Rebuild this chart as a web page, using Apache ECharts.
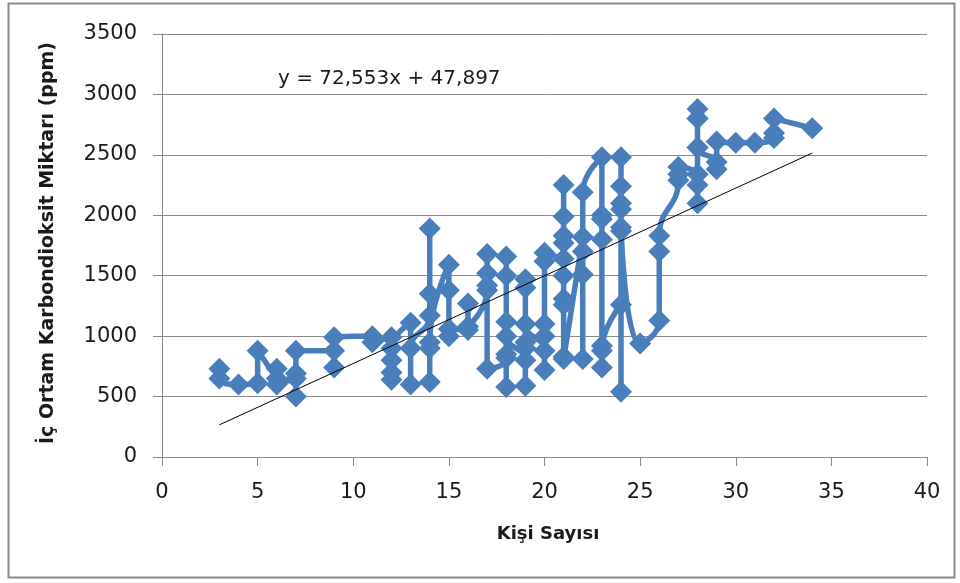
<!DOCTYPE html>
<html>
<head>
<meta charset="utf-8">
<script src="https://cdn.jsdelivr.net/npm/echarts@6/dist/echarts.min.js"></script>
<style>
html,body{margin:0;padding:0;background:#fff;}
#c{width:960px;height:583px;}
</style>
</head>
<body>
<div id="c"></div>
<script>
// Observation sequence (x = number of people, y = indoor CO2 ppm), in drawing order
const xValues = [3,3,4,5,5,6,6,6,7,7,7,7,9,9,9,11,11,12,12,12,12,12,13,13,13,14,14,14,14,14,14,15,15,15,15,16,16,16,17,17,17,17,17,18,18,18,18,18,18,18,19,19,19,19,19,19,19,20,20,20,20,20,20,21,21,21,21,21,21,21,21,21,21,22,22,22,22,22,23,23,23,23,23,23,23,24,24,24,24,24,24,24,24,25,26,26,26,27,27,27,28,28,28,28,28,28,28,28,28,29,29,29,30,31,32,32,32,34];
const yValues = [730,650,600,610,880,650,730,600,650,500,690,880,880,740,990,1000,950,990,800,640,700,900,1110,600,900,1170,1890,1350,620,900,950,1590,1380,1000,1060,1050,1270,1080,1380,1680,1520,1420,730,820,1660,1500,580,850,1120,1000,800,590,950,900,1470,1400,1100,880,720,1000,1100,1620,1690,1640,1770,2250,1990,1830,1500,1310,1260,830,810,1820,1700,1510,810,2190,2480,2000,1970,1800,920,740,880,1260,540,2480,2240,2100,2050,1870,1900,940,1130,1700,1830,2290,2340,2400,2340,2250,2100,2340,2560,2800,2880,2800,2560,2440,2380,2610,2600,2600,2640,2680,2800,2720];
// Linear trendline end points
const trendX = [3, 34];
const trendY = [266, 2515];
const equationText = 'y = 72,553x + 47,897';
const xTitle = 'Kişi Sayısı';
const yTitle = 'İç Ortam Karbondioksit Miktarı (ppm)';

const seriesData = xValues.map((x, i) => [x, yValues[i]]);
const trendData = trendX.map((x, i) => [x, trendY[i]]);

const gridColor = '#8a8a8a';
const chart = echarts.init(document.getElementById('c'), null, {renderer: 'canvas'});
chart.setOption({
  animation: false,
  backgroundColor: '#fff',
  grid: {left: 162, right: 33, top: 34, bottom: 126, containLabel: false},
  xAxis: {
    type: 'value', min: 0, max: 40, interval: 5,
    axisLine: {show: true, onZero: false, lineStyle: {color: gridColor, width: 1}},
    axisTick: {show: true, length: 9, lineStyle: {color: gridColor}},
    splitLine: {show: false},
    axisLabel: {margin: 25, fontFamily: 'DejaVu Sans', fontSize: 21, color: '#1a1a1a',
                formatter: v => String(v)}
  },
  yAxis: {
    type: 'value', min: 0, max: 3500, interval: 500,
    axisLine: {show: true, lineStyle: {color: gridColor, width: 1}},
    axisTick: {show: true, length: 9, lineStyle: {color: gridColor}},
    splitLine: {show: true, lineStyle: {color: gridColor, width: 1}},
    axisLabel: {margin: 25, fontFamily: 'DejaVu Sans', fontSize: 21, color: '#1a1a1a',
                formatter: v => String(v)}
  },
  series: [
    {
      type: 'line',
      data: seriesData,
      smooth: 0.5,
      symbol: 'diamond',
      symbolSize: 22,
      showAllSymbol: true,
      lineStyle: {color: '#4a7ebb', width: 5.5},
      itemStyle: {color: '#4a7ebb'},
      z: 2
    },
    {
      type: 'line',
      data: trendData,
      symbol: 'none',
      lineStyle: {color: '#000', width: 1},
      z: 5
    }
  ],
  graphic: [
    {type: 'rect', shape: {x: 8.5, y: 3.5, width: 946, height: 574},
     style: {fill: 'none', stroke: '#8a8a8a', lineWidth: 2}, z: 0, silent: true},
    {type: 'text', x: 278, y: 79,
     style: {text: equationText, fontFamily: 'DejaVu Sans', fontSize: 20, fill: '#1a1a1a',
             align: 'left', verticalAlign: 'middle', textAlign: 'left', textVerticalAlign: 'middle'}, z: 10},
    {type: 'text', x: 548, y: 534,
     style: {text: xTitle, fontFamily: 'DejaVu Sans', fontWeight: 'bold', fontSize: 18, fill: '#1a1a1a',
             align: 'center', verticalAlign: 'middle', textAlign: 'center', textVerticalAlign: 'middle'}, z: 10},
    {type: 'text', x: 48, y: 243, rotation: Math.PI / 2,
     style: {text: yTitle, fontFamily: 'DejaVu Sans', fontWeight: 'bold', fontSize: 19, fill: '#1a1a1a',
             align: 'center', verticalAlign: 'middle', textAlign: 'center', textVerticalAlign: 'middle'}, z: 10}
  ]
});
</script>
</body>
</html>
